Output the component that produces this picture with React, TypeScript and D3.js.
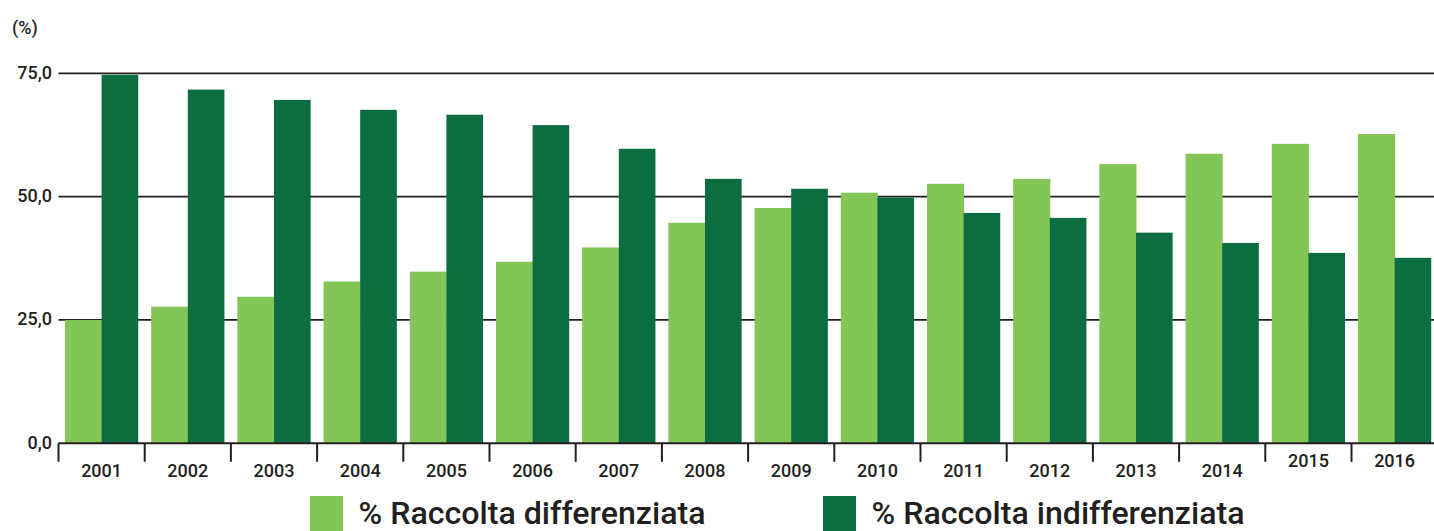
import { useEffect, useRef } from 'react';
import * as d3 from 'd3';

const years = ['2001', '2002', '2003', '2004', '2005', '2006', '2007', '2008', '2009', '2010', '2011', '2012', '2013', '2014', '2015', '2016'];
const differenziata = [25.0, 27.7, 29.7, 32.8, 34.8, 36.8, 39.7, 44.7, 47.7, 50.8, 52.6, 53.6, 56.6, 58.7, 60.7, 62.7];
const indifferenziata = [74.7, 71.7, 69.6, 67.6, 66.6, 64.5, 59.7, 53.6, 51.6, 49.8, 46.7, 45.7, 42.7, 40.6, 38.6, 37.6];
const yTicks = [0, 25, 50, 75];
const seriesNames = ['% Raccolta differenziata', '% Raccolta indifferenziata'];

const LIGHT = '#84c558';
const DARK = '#0b6d40';
const INK = '#231f20';
const FONT = 'Roboto, "DejaVu Sans", sans-serif';

const W = 1434;
const H = 531;

export default function App() {
  const svgRef = useRef<SVGSVGElement>(null);

  useEffect(() => {
    if (!svgRef.current) return;
    const svg = d3.select(svgRef.current);
    svg.selectAll('*').remove();

    const x0 = 58.5;
    const step = 86.2;
    const x = d3.scaleBand<string>()
      .domain(years)
      .range([x0, x0 + step * years.length])
      .paddingInner(0.15)
      .paddingOuter(0.075);
    const inner = d3.scaleBand<number>()
      .domain([0, 1])
      .range([0, x.bandwidth()]);

    const y = d3.scaleLinear().domain([0, 75]).range([443.3, 73.3]);

    // Grid lines (behind bars)
    svg.append('g')
      .selectAll('line')
      .data(yTicks.filter(t => t > 0))
      .join('line')
      .attr('x1', x0)
      .attr('x2', W)
      .attr('y1', d => y(d))
      .attr('y2', d => y(d))
      .attr('stroke', INK)
      .attr('stroke-width', 1.8);

    // Bars
    const groups = svg.append('g')
      .selectAll('g')
      .data(years)
      .join('g')
      .attr('transform', d => `translate(${x(d)},0)`);

    groups.append('rect')
      .attr('x', inner(0)!)
      .attr('width', inner.bandwidth() + 0.5)
      .attr('y', (_d, i) => y(differenziata[i]))
      .attr('height', (_d, i) => y(0) - y(differenziata[i]))
      .attr('fill', LIGHT);

    groups.append('rect')
      .attr('x', inner(1)!)
      .attr('width', inner.bandwidth())
      .attr('y', (_d, i) => y(indifferenziata[i]))
      .attr('height', (_d, i) => y(0) - y(indifferenziata[i]))
      .attr('fill', DARK);

    // Baseline axis + band ticks
    svg.append('line')
      .attr('x1', x0)
      .attr('x2', W)
      .attr('y1', y(0))
      .attr('y2', y(0))
      .attr('stroke', INK)
      .attr('stroke-width', 2);

    svg.append('g')
      .selectAll('line')
      .data(years)
      .join('line')
      .attr('x1', d => x(d)! - x.step() * 0.075)
      .attr('x2', d => x(d)! - x.step() * 0.075)
      .attr('y1', y(0))
      .attr('y2', y(0) + 18.5)
      .attr('stroke', INK)
      .attr('stroke-width', 2);

    // X labels (the last two sit higher in the original)
    const raised = ['2015', '2016'];
    svg.append('g')
      .selectAll('text')
      .data(years)
      .join('text')
      .attr('x', d => x(d)! + x.bandwidth() / 2)
      .attr('y', d => (raised.includes(d) ? 467 : 477))
      .attr('text-anchor', 'middle')
      .attr('font-family', FONT)
      .attr('font-weight', 500)
      .attr('font-size', 18)
      .attr('fill', INK)
      .text(d => d);

    // Y labels
    svg.append('g')
      .selectAll('text')
      .data(yTicks)
      .join('text')
      .attr('x', 52)
      .attr('y', d => y(d) + 5.5)
      .attr('text-anchor', 'end')
      .attr('font-family', FONT)
      .attr('font-weight', 500)
      .attr('font-size', 18)
      .attr('fill', INK)
      .text(d => d3.format('.1f')(d).replace('.', ','));

    svg.append('text')
      .attr('x', 12)
      .attr('y', 34)
      .attr('font-family', FONT)
      .attr('font-weight', 500)
      .attr('font-size', 18)
      .attr('fill', INK)
      .text('(%)');

    // Legend
    const legend = [
      { name: seriesNames[0], color: LIGHT, x: 310, len: 347 },
      { name: seriesNames[1], color: DARK, x: 823, len: 373 },
    ];
    const lg = svg.append('g')
      .selectAll('g')
      .data(legend)
      .join('g')
      .attr('transform', d => `translate(${d.x},0)`);
    lg.append('rect')
      .attr('x', 0)
      .attr('y', 496)
      .attr('width', 33)
      .attr('height', 35)
      .attr('fill', d => d.color);
    lg.append('text')
      .attr('x', 48.5)
      .attr('y', 524)
      .attr('font-family', FONT)
      .attr('font-weight', 500)
      .attr('font-size', 32)
      .attr('fill', INK)
      .attr('textLength', d => d.len)
      .attr('lengthAdjust', 'spacingAndGlyphs')
      .text(d => d.name);
  }, []);

  return (
    <div style={{ position: 'absolute', left: 0, top: 0, width: W, height: H, background: '#fff', overflow: 'hidden' }}>
      <svg ref={svgRef} width={W} height={H} />
    </div>
  );
}
